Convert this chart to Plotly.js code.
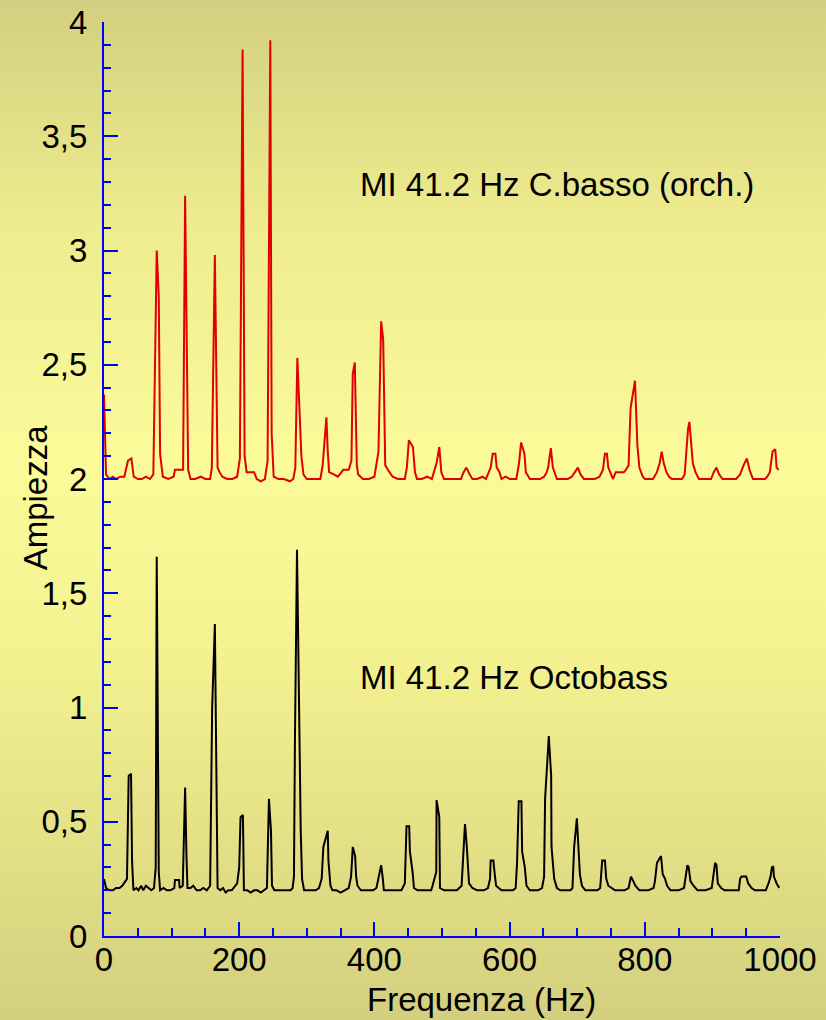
<!DOCTYPE html>
<html>
<head>
<meta charset="utf-8">
<script src="https://cdn.plot.ly/plotly-3.0.1.min.js"></script>
<style>
  html, body { margin:0; padding:0; width:826px; height:1020px; overflow:hidden;
    background: linear-gradient(to bottom, #d3cf80 0%, #eeec8e 22%, #fbfb9a 45%, #f5f391 62%, #e6e387 80%, #d3cf7f 100%); }
  #chart { width:826px; height:1020px; }
</style>
</head>
<body>
<div id="chart"></div>
<script>
// Contrabbasso (orchestra) spectrum: [frequency Hz, amplitude]
const contrabassoPoints = [
[0,2.37],[3,2.02],[8,2.0],[13,2.01],[18,2.0],[24,2.01],[30,2.01],[35.5,2.08],[40.5,2.09],[44,2.01],[50,2.0],[56,2.0],[62,2.01],[68,2.0],[73,2.02],[78,3.0],[81,2.8],[83,2.11],[87,2.01],[95,2.0],[103,2.01],[105,2.04],[113,2.04],[117,2.04],[120,3.24],[122,2.7],[124.5,2.04],[128,2.0],[135,2.0],[143,2.01],[150,2.0],[157,2.0],[159.5,2.05],[164,2.98],[166,2.55],[168,2.05],[171,2.03],[175,2.01],[182,2.0],[190,2.0],[197,2.01],[201,2.09],[205,3.88],[208,2.1],[211,2.03],[222,2.03],[226,2.0],[232,1.99],[238,2.0],[242,2.08],[246,3.92],[248,2.2],[251,2.01],[258,2.0],[266,2.0],[275,1.99],[280,2.0],[283,2.05],[286,2.53],[290,2.27],[292,2.1],[295,2.02],[300,2.0],[308,2.0],[314,2.0],[320,2.0],[323.5,2.06],[329,2.27],[331,2.12],[333,2.03],[340,2.02],[346,2.01],[354,2.04],[362,2.04],[366,2.08],[368,2.46],[371,2.51],[374,2.06],[376,2.02],[383,2.0],[392,2.0],[400,2.01],[406,2.12],[410,2.69],[413,2.61],[416,2.06],[420,2.04],[427,2.01],[435,2.0],[442,2.0],[445,2.0],[448,2.05],[451,2.17],[457,2.14],[460,2.03],[463,2.0],[470,2.0],[478,2.01],[485,2.0],[492,2.07],[496,2.14],[499,2.03],[503,2.0],[512,2.0],[520,2.0],[528,2.0],[532,2.03],[536,2.05],[541,2.02],[545,2.0],[552,2.0],[560,2.01],[565,2.0],[572,2.05],[575,2.11],[579,2.11],[581,2.05],[585,2.03],[588,2.0],[594,2.01],[600,2.0],[606,2.0],[610,2.0],[614,2.07],[617,2.16],[622,2.11],[624,2.03],[630,2.0],[638,2.0],[645,2.0],[651,2.01],[655,2.03],[657,2.05],[661,2.135],[664,2.05],[667,2.02],[670,2.0],[678,2.0],[686,2.0],[692,2.01],[697,2.03],[701,2.05],[705,2.02],[710,2.0],[718,2.0],[726,2.0],[733,2.01],[738,2.04],[741,2.11],[744,2.11],[746,2.05],[750,2.02],[753,2.0],[757,2.03],[769,2.03],[772,2.04],[776,2.06],[779,2.31],[785.5,2.43],[789,2.15],[792,2.05],[797,2.01],[800,2.0],[806,2.0],[812,2.0],[818,2.03],[822,2.07],[825,2.12],[828,2.07],[832,2.03],[836,2.01],[840,2.0],[848,2.0],[855,2.0],[859,2.02],[861,2.1],[864,2.22],[866,2.25],[869,2.16],[871,2.07],[875,2.03],[880,2.0],[888,2.0],[898,2.0],[902,2.03],[906,2.05],[910,2.02],[915,2.0],[922,2.0],[929,2.0],[935,2.0],[941,2.02],[946,2.06],[951,2.09],[955,2.04],[960,2.0],[966,2.0],[972,2.0],[978,2.0],[981,2.01],[985,2.03],[989,2.12],[993,2.13],[995,2.05],[998,2.04]
];

// Octobass spectrum: [frequency Hz, amplitude]
const octobassPoints = [
[0,0.25],[3,0.21],[8,0.2],[13,0.2],[18,0.21],[23,0.21],[27,0.22],[31,0.24],[34,0.25],[36.5,0.70],[40,0.71],[41.5,0.33],[43.5,0.2],[48,0.21],[51,0.2],[55,0.22],[58,0.2],[62,0.22],[66,0.21],[70,0.2],[74,0.21],[76.5,0.3],[78,1.66],[81,0.28],[83,0.2],[88,0.21],[93,0.2],[98,0.2],[104,0.21],[105,0.245],[111,0.245],[112,0.21],[116.5,0.22],[118,0.45],[120,0.65],[122,0.35],[123.5,0.21],[128,0.21],[132,0.22],[137,0.2],[142,0.2],[147,0.21],[152,0.2],[157,0.22],[158.5,0.74],[160,1.0],[164,1.365],[166.5,0.6],[168,0.21],[172,0.2],[176,0.21],[180,0.19],[184,0.2],[189,0.2],[194,0.22],[197,0.23],[200,0.3],[202,0.52],[205.5,0.53],[207,0.2],[212,0.2],[217,0.19],[222,0.2],[227,0.2],[232,0.19],[237,0.2],[241,0.21],[244,0.6],[247,0.46],[248.5,0.22],[252,0.2],[258,0.2],[264,0.2],[270,0.2],[276,0.2],[279,0.21],[281,0.26],[282.5,0.87],[285.5,1.69],[291,0.46],[293,0.25],[296,0.2],[302,0.2],[308,0.2],[313,0.2],[318,0.21],[322,0.25],[324.5,0.39],[331,0.46],[332,0.33],[335,0.22],[338,0.2],[344,0.2],[350,0.19],[356,0.2],[362,0.21],[365.5,0.26],[368,0.39],[371.5,0.35],[373,0.26],[375,0.22],[380,0.2],[386,0.2],[392,0.2],[398,0.2],[403,0.21],[406.5,0.26],[410,0.31],[412.5,0.25],[414,0.2],[420,0.2],[427,0.2],[434,0.2],[440,0.2],[445,0.23],[447.5,0.48],[451.5,0.48],[452.5,0.37],[456.5,0.28],[458.5,0.21],[464,0.2],[470,0.2],[477,0.2],[484,0.2],[486,0.22],[491.5,0.28],[492,0.595],[496,0.52],[497,0.21],[503,0.2],[510,0.2],[516,0.2],[522,0.2],[529,0.22],[530.5,0.32],[534,0.49],[536.5,0.4],[538,0.3],[540,0.23],[545,0.21],[552,0.2],[557,0.2],[562,0.2],[568,0.21],[571,0.25],[572,0.33],[576,0.33],[578,0.27],[580,0.22],[584,0.21],[588,0.2],[594,0.2],[600,0.2],[605,0.2],[609,0.21],[611,0.32],[613.5,0.59],[617.5,0.59],[618.5,0.37],[622.5,0.3],[625,0.22],[630,0.2],[636,0.2],[642,0.2],[648,0.21],[651,0.26],[652.5,0.6],[658,0.875],[661.5,0.7],[662,0.39],[666,0.25],[670,0.21],[675,0.2],[680,0.2],[686,0.2],[690,0.2],[693,0.21],[695.5,0.39],[699.5,0.515],[702,0.35],[704,0.27],[707,0.22],[712,0.2],[718,0.2],[725,0.2],[730,0.2],[734,0.21],[737,0.33],[741,0.33],[743,0.25],[746,0.22],[752,0.21],[756,0.2],[763,0.2],[770,0.2],[776,0.21],[779.5,0.26],[783,0.24],[786,0.22],[792,0.2],[798,0.2],[805,0.2],[813,0.21],[815,0.24],[818,0.32],[824,0.35],[826.5,0.27],[830,0.25],[833,0.22],[838,0.2],[844,0.2],[850,0.2],[858,0.21],[860,0.26],[863,0.31],[865,0.3],[867.5,0.24],[872,0.22],[878,0.2],[884,0.2],[890,0.2],[899,0.21],[901,0.25],[904,0.32],[906,0.31],[908,0.23],[913,0.21],[918,0.2],[924,0.2],[930,0.2],[939,0.2],[941,0.25],[943,0.26],[950,0.26],[953,0.23],[958,0.21],[963,0.2],[970,0.2],[979,0.2],[983,0.23],[986,0.26],[988,0.3],[990,0.305],[991,0.26],[995,0.23],[999,0.21]
];

const xTickVals = [0, 200, 400, 600, 800, 1000];
const xTickText = ['0', '200', '400', '600', '800', '1000'];
const yTickVals = [0, 0.5, 1, 1.5, 2, 2.5, 3, 3.5, 4];
const yTickText = ['0', '0,5', '1', '1,5', '2', '2,5', '3', '3,5', '4'];

const labelContrabbasso = 'MI 41.2 Hz C.basso (orch.)';
const labelOctobass = 'MI 41.2 Hz Octobass';
const xTitle = 'Frequenza (Hz)';
const yTitle = 'Ampiezza';

const FONT = 'Liberation Sans, Arial, Helvetica, sans-serif';
const AXBLUE = '#0000ff';

const traces = [
  { x: contrabassoPoints.map(p => p[0]), y: contrabassoPoints.map(p => p[1]),
    type: 'scatter', mode: 'lines', line: { color: '#e00000', width: 2 },
    hoverinfo: 'skip', showlegend: false, cliponaxis: false },
  { x: octobassPoints.map(p => p[0]), y: octobassPoints.map(p => p[1]),
    type: 'scatter', mode: 'lines', line: { color: '#000000', width: 2 },
    hoverinfo: 'skip', showlegend: false, cliponaxis: false }
];

const layout = {
  width: 826, height: 1020,
  margin: { l: 104, r: 46, t: 22, b: 84 },
  paper_bgcolor: 'rgba(0,0,0,0)',
  plot_bgcolor: 'rgba(0,0,0,0)',
  font: { family: FONT, color: '#000000', size: 32 },
  showlegend: false,
  xaxis: {
    range: [0, 1000], fixedrange: true,
    tickmode: 'array', tickvals: xTickVals, ticktext: xTickText,
    ticks: 'inside', ticklen: 14, tickwidth: 2, tickcolor: AXBLUE,
    showline: true, linecolor: AXBLUE, linewidth: 2,
    showgrid: false, zeroline: false,
    ticklabelstandoff: -7,
    tickfont: { family: FONT, size: 33, color: '#000000' },
    minor: { tickmode: 'linear', tick0: 0, dtick: 50, ticks: 'inside', ticklen: 8, tickwidth: 2, tickcolor: AXBLUE, showgrid: false }
  },
  yaxis: {
    range: [0, 4], fixedrange: true,
    tickmode: 'array', tickvals: yTickVals, ticktext: yTickText,
    ticks: 'inside', ticklen: 14, tickwidth: 2, tickcolor: AXBLUE,
    showline: true, linecolor: AXBLUE, linewidth: 2,
    showgrid: false, zeroline: false,
    ticklabelstandoff: 8,
    tickfont: { family: FONT, size: 33, color: '#000000' },
    minor: { tickmode: 'linear', tick0: 0, dtick: 0.1, ticks: 'inside', ticklen: 7, tickwidth: 2, tickcolor: AXBLUE, showgrid: false }
  },
  annotations: [
    { text: labelContrabbasso, xref: 'x', yref: 'y', x: 376, y: 3.29,
      xanchor: 'left', yanchor: 'middle', showarrow: false,
      font: { family: FONT, size: 33, color: '#000000' } },
    { text: labelOctobass, xref: 'x', yref: 'y', x: 376, y: 1.133,
      xanchor: 'left', yanchor: 'middle', showarrow: false,
      font: { family: FONT, size: 33, color: '#000000' } },
    { text: xTitle, xref: 'paper', yref: 'paper', x: 0.559, y: -0.070,
      xanchor: 'center', yanchor: 'middle', showarrow: false,
      font: { family: FONT, size: 33, color: '#000000' } },
    { text: yTitle, xref: 'paper', yref: 'paper', x: -0.102, y: 0.480,
      xanchor: 'center', yanchor: 'middle', showarrow: false, textangle: -90,
      font: { family: FONT, size: 33, color: '#000000' } }
  ]
};

Plotly.newPlot('chart', traces, layout, { staticPlot: true, displayModeBar: false });
</script>
</body>
</html>
